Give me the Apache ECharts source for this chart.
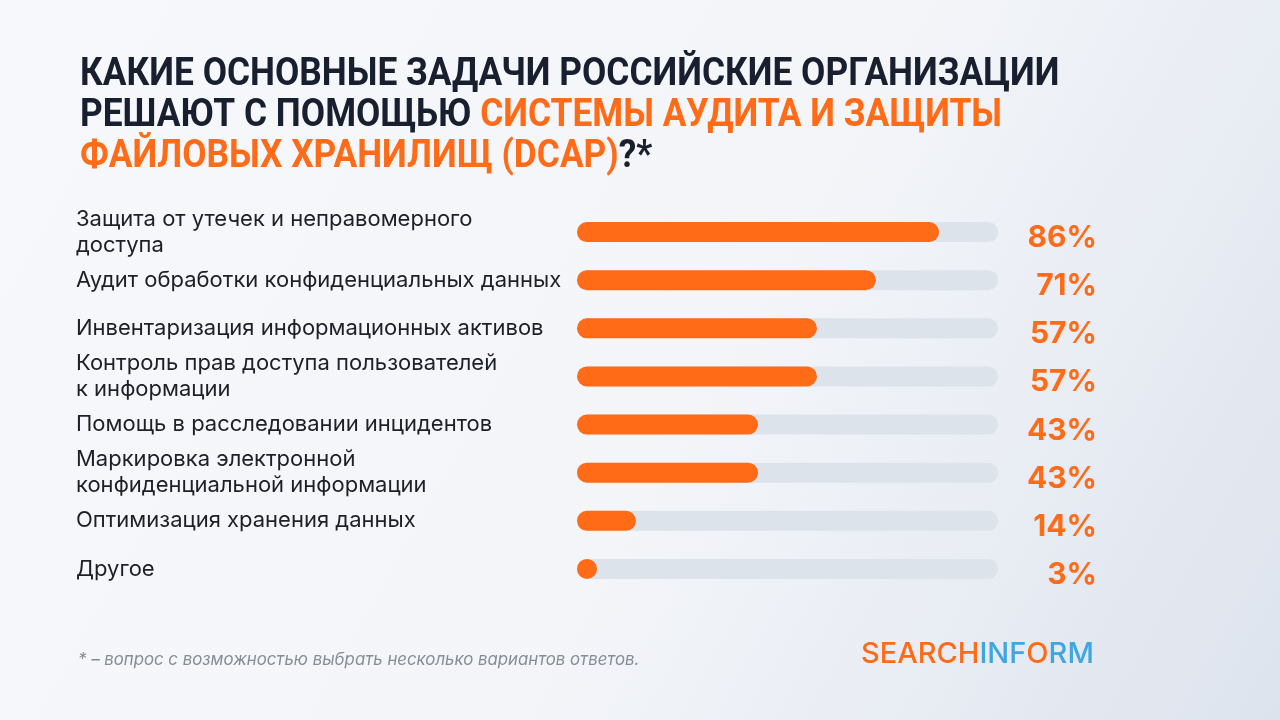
<!DOCTYPE html>
<html>
<head>
<meta charset="utf-8">
<script src="https://cdn.jsdelivr.net/npm/echarts@6/dist/echarts.min.js"></script>
<style>html,body{margin:0;padding:0;}#c{width:1280px;height:720px;}</style>
</head>
<body>
<div id="c"></div>
<script>
const categories = [
  "Защита от утечек и неправомерного\nдоступа",
  "Аудит обработки конфиденциальных данных",
  "Инвентаризация информационных активов",
  "Контроль прав доступа пользователей\nк информации",
  "Помощь в расследовании инцидентов",
  "Маркировка электронной\nконфиденциальной информации",
  "Оптимизация хранения данных",
  "Другое"
];
const values = [86, 71, 57, 57, 43, 43, 14, 3];
const valueLabels = values.map(v => v + "%");

const ORANGE = "#ff6b17";
const DARK = "#18202f";
const TITLE_FONT = "Roboto, Inter, sans-serif";

const chart = echarts.init(document.getElementById('c'), null, {renderer: 'canvas'});
chart.setOption({
  backgroundColor: {
    type: 'linear', x: 0, y: 0, x2: 1, y2: 1,
    colorStops: [
      {offset: 0, color: '#f7f8fb'},
      {offset: 0.55, color: '#f3f5f9'},
      {offset: 1, color: '#dde3ed'}
    ]
  },
  animation: false,
  grid: {left: 577, right: 282, top: 208, bottom: 127, containLabel: false},
  xAxis: {type: 'value', min: 0, max: 100, show: false},
  yAxis: [
    {
      type: 'category', inverse: true, data: categories,
      axisLine: {show: false}, axisTick: {show: false}, splitLine: {show: false},
      axisLabel: {
        align: 'left', margin: 501, color: '#1d1f29',
        fontFamily: 'Inter, sans-serif', fontSize: 22, lineHeight: 26
      }
    },
    {
      type: 'category', inverse: true, position: 'right', data: valueLabels,
      axisLine: {show: false}, axisTick: {show: false}, splitLine: {show: false},
      axisLabel: {
        align: 'right', margin: 99,
        formatter: function (v) { return '{v|' + v + '}'; },
        rich: {
          v: {
            color: ORANGE, fontFamily: 'Inter, sans-serif', fontWeight: 'bold',
            fontSize: 30, padding: [12, 0, 0, 0]
          }
        }
      }
    }
  ],
  series: [{
    type: 'bar', data: values, barWidth: 20, barMinHeight: 20,
    itemStyle: {color: ORANGE, borderRadius: 10},
    showBackground: true,
    backgroundStyle: {color: '#dde3ea', borderRadius: 10}
  }],
  graphic: [
    {
      type: 'text', left: 80, top: 56, scaleX: 0.905, originX: 0,
      style: {
        text: "{d|КАКИЕ ОСНОВНЫЕ ЗАДАЧИ РОССИЙСКИЕ ОРГАНИЗАЦИИ}\n{d|РЕШАЮТ С ПОМОЩЬЮ }{o|СИСТЕМЫ АУДИТА И ЗАЩИТЫ}\n{o|ФАЙЛОВЫХ ХРАНИЛИЩ (DCAP)}{d|?*}",
        rich: {
          d: {fill: DARK, fontFamily: TITLE_FONT, fontWeight: 'bold', fontSize: 39, lineHeight: 41},
          o: {fill: ORANGE, fontFamily: TITLE_FONT, fontWeight: 'bold', fontSize: 39, lineHeight: 41}
        }
      }
    },
    {
      type: 'text', left: 78, top: 651,
      style: {
        text: "* – вопрос с возможностью выбрать несколько вариантов ответов.",
        fill: '#878c96', fontFamily: 'Inter, sans-serif', fontStyle: 'italic', fontSize: 16.8
      }
    },
    {
      type: 'text', left: 861, top: 640,
      style: {
        text: "{o|SEARCH}{b|INF}{o|O}{b|RM}",
        rich: {
          o: {fill: ORANGE, fontFamily: 'Inter, sans-serif', fontWeight: 500, fontSize: 29},
          b: {fill: '#3ea7df', fontFamily: 'Inter, sans-serif', fontWeight: 500, fontSize: 29}
        }
      }
    }
  ]
});
</script>
</body>
</html>
